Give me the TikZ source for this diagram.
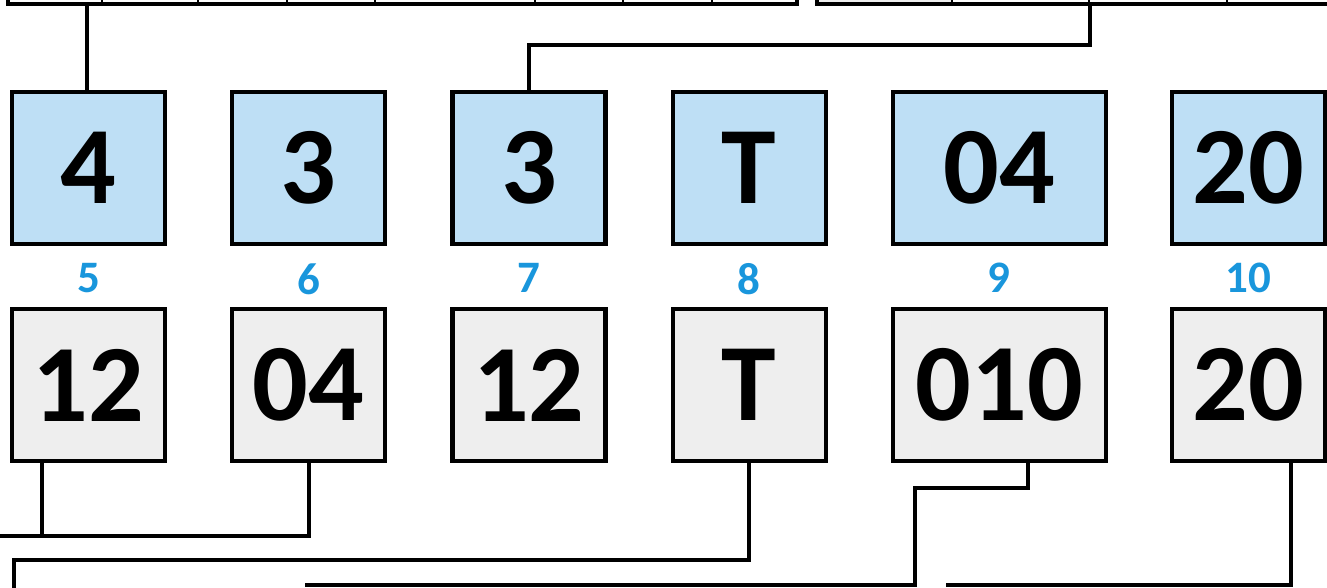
\documentclass[tikz,border=0pt]{standalone}
\usepackage{fontspec}
\setmainfont{Carlito}
\usetikzlibrary{positioning}
\definecolor{KeyBlue}{RGB}{190,223,245}
\definecolor{ValGrey}{RGB}{238,238,238}
\definecolor{IndexBlue}{RGB}{25,150,220}

\begin{document}
\begin{tikzpicture}[
	x=1pt,y=-1pt,
	cell/.style={draw=black,line width=4.2pt,minimum width=153pt,minimum height=152pt,inner sep=0pt,
		font=\fontsize{110}{112}\selectfont\bfseries},
	keycell/.style={cell,fill=KeyBlue},
	valcell/.style={cell,fill=ValGrey},
	idx/.style={text=IndexBlue,inner sep=0pt,font=\fontsize{45}{47}\selectfont\bfseries},
	link/.style={line width=4.2pt},
	tabouter/.style={line width=4.2pt},
	tabinner/.style={line width=2pt}
	]
	
	\useasboundingbox (0,0) rectangle (1327,587);
	\clip (0,0) rectangle (1327,587);
	
	% rows of the table above
	\fill[white] (8,-30) rectangle (797,4);
	\draw[tabinner] (102,-30) -- (102,4) (198,-30) -- (198,4) (287,-30) -- (287,4)
		(375,-30) -- (375,4) (535,-30) -- (535,4) (623,-30) -- (623,4) (712,-30) -- (712,4);
	\draw[tabouter] (8,-30) rectangle (797,4);
	
	\fill[ValGrey] (817,-30) rectangle (952,4);
	\draw[tabinner] (952,-30) -- (952,4) (1089,-30) -- (1089,4) (1227,-30) -- (1227,4);
	\draw[tabouter] (817,-30) rectangle (1400,4);
	
	\coordinate (tabA) at (87,4);
	\coordinate (tabB) at (1090,4);
	
	% key row
	\node[keycell] (t1) at (88.5,168) {4};
	\node[keycell,right=63pt of t1] (t2) {3};
	\node[keycell,right=63pt of t2] (t3) {3};
	\node[keycell,right=63pt of t3] (t4) {T};
	\node[keycell,minimum width=213pt,right=63pt of t4] (t5) {04};
	\node[keycell,right=62pt of t5] (t6) {20};
	
	% value row
	\node[valcell,below=61pt of t1] (b1) {12};
	\node[valcell,below=61pt of t2] (b2) {04};
	\node[valcell,below=61pt of t3] (b3) {12};
	\node[valcell,below=61pt of t4] (b4) {T};
	\node[valcell,minimum width=213pt,below=61pt of t5] (b5) {010};
	\node[valcell,below=61pt of t6] (b6) {20};
	
	% indices
	\node[idx,below=17pt of t1] (i5) {5};
	\node[idx,below=17pt of t2] (i6) {6};
	\node[idx,below=17pt of t3] (i7) {7};
	\node[idx,below=17pt of t4] (i8) {8};
	\node[idx,below=17pt of t5] (i9) {9};
	\node[idx,below=17pt of t6] (i10) {10};
	
	% links from above
	\draw[link] (tabA) -- (tabA |- t1.north);
	\draw[link] (tabB) -- ++(0,41) -| (t3.north);
	
	% links going below
	\coordinate (outA) at (-10,536);
	\coordinate (outB) at (14,600);
	\coordinate (outC) at (305,585);
	\coordinate (outD) at (946,585);
	
	\draw[link] (b2.south) |- (outA);
	\draw[link] ([xshift=32pt]b1.south west) -- ([xshift=32pt]b1.south west |- outA);
	\draw[link] (b4.south) -- ++(0,97) -| (outB);
	\draw[link] ([xshift=-80pt]b5.south east) -- ++(0,25) -| (915,585) -- (outC);
	\draw[link] ([xshift=-36pt]b6.south east) |- (outD);
	
\end{tikzpicture}
\end{document}
